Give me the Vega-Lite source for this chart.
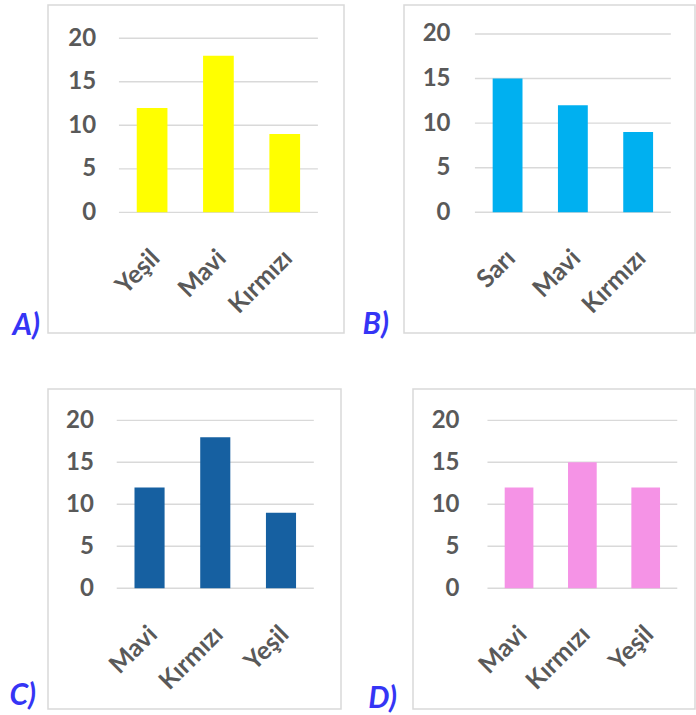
{
  "$schema": "https://vega.github.io/schema/vega-lite/v6.json",
  "padding": {"left": 8, "top": 4, "right": 0, "bottom": 4},
  "background": "white",
  "config": {
    "view": {"stroke": "#D9D9D9", "strokeWidth": 1.5},
    "axis": {"labelFont": "Lato", "labelFontSize": 24, "labelFontWeight": "bold", "labelColor": "#595959", "domain": false, "ticks": false, "tickSize": 0, "grid": false, "title": null, "labelPadding": 0},
    "title": {"font": "Lato", "fontSize": 30, "fontWeight": "bold", "fontStyle": "italic", "color": "#3535F5", "orient": "left", "anchor": "start", "angle": 0, "align": "right", "baseline": "alphabetic"}
  },
  "bounds": "flush",
  "spacing": 384,
  "vconcat": [
    {
      "bounds": "flush",
      "spacing": 60,
      "hconcat": [
        {
          "width": 296, "height": 328,
          "title": {"text": "A)", "offset": 8, "dy": -22},
          "layer": [
            {
              "data": {"values": [{"v": 0}, {"v": 5}, {"v": 10}, {"v": 15}, {"v": 20}]},
              "mark": {"type": "rule", "color": "#D9D9D9", "strokeWidth": 1.4},
              "encoding": {
                "y": {"field": "v", "type": "quantitative", "scale": {"domain": [-13.87, 23.83], "nice": false, "zero": false},
                  "axis": {"values": [0, 5, 10, 15, 20], "offset": -47.7, "labelBaseline": "middle"}},
                "x": {"datum": "Yeşil", "bandPosition": -0.58, "type": "nominal"},
                "x2": {"datum": "Kırmızı", "bandPosition": 1.58}
              }
            },
            {
              "data": {"values": [{"renk": "Yeşil", "sayi": 12}, {"renk": "Mavi", "sayi": 18}, {"renk": "Kırmızı", "sayi": 9}]},
              "mark": {"type": "bar", "color": "#FFFF00"},
              "encoding": {
                "x": {"field": "renk", "type": "nominal", "sort": null,
                  "scale": {"domain": ["Yeşil", "Mavi", "Kırmızı"], "paddingInner": 0.537, "paddingOuter": 1.107, "align": 0.669},
                  "axis": {"orient": "bottom", "labelAngle": -45, "labelAlign": "right", "labelBaseline": "top", "offset": -88, "labelOverlap": false, "labelOffset": -5, "labelFontSize": 25}},
                "y": {"field": "sayi", "type": "quantitative",
                  "scale": {"domain": [-13.87, 23.83], "nice": false, "zero": false},
                  "axis": {"values": [0, 5, 10, 15, 20], "offset": -47.7, "labelBaseline": "middle"}},
                "y2": {"datum": 0}
              }
            }
          ]
        },
        {
          "width": 291, "height": 328,
          "title": {"text": "B)", "offset": 15, "dy": -23},
          "layer": [
            {
              "data": {"values": [{"v": 0}, {"v": 5}, {"v": 10}, {"v": 15}, {"v": 20}]},
              "mark": {"type": "rule", "color": "#D9D9D9", "strokeWidth": 1.4},
              "encoding": {
                "y": {"field": "v", "type": "quantitative", "scale": {"domain": [-13.54, 23.25], "nice": false, "zero": false},
                  "axis": {"values": [0, 5, 10, 15, 20], "offset": -46, "labelBaseline": "middle"}},
                "x": {"datum": "Sarı", "bandPosition": -0.595, "type": "nominal"},
                "x2": {"datum": "Kırmızı", "bandPosition": 1.595}
              }
            },
            {
              "data": {"values": [{"renk": "Sarı", "sayi": 15}, {"renk": "Mavi", "sayi": 12}, {"renk": "Kırmızı", "sayi": 9}]},
              "mark": {"type": "bar", "color": "#00B0F0"},
              "encoding": {
                "x": {"field": "renk", "type": "nominal", "sort": null,
                  "scale": {"domain": ["Sarı", "Mavi", "Kırmızı"], "paddingInner": 0.543, "paddingOuter": 1.063, "align": 0.679},
                  "axis": {"orient": "bottom", "labelAngle": -45, "labelAlign": "right", "labelBaseline": "top", "offset": -88, "labelOverlap": false, "labelOffset": -5, "labelFontSize": 25}},
                "y": {"field": "sayi", "type": "quantitative",
                  "scale": {"domain": [-13.54, 23.25], "nice": false, "zero": false},
                  "axis": {"values": [0, 5, 10, 15, 20], "offset": -46, "labelBaseline": "middle"}},
                "y2": {"datum": 0}
              }
            }
          ]
        }
      ]
    },
    {
      "bounds": "flush",
      "spacing": 72,
      "hconcat": [
        {
          "width": 293, "height": 320,
          "title": {"text": "C)", "offset": 12, "dy": -28},
          "layer": [
            {
              "data": {"values": [{"v": 0}, {"v": 5}, {"v": 10}, {"v": 15}, {"v": 20}]},
              "mark": {"type": "rule", "color": "#D9D9D9", "strokeWidth": 1.4},
              "encoding": {
                "y": {"field": "v", "type": "quantitative", "scale": {"domain": [-14.37, 23.73], "nice": false, "zero": false},
                  "axis": {"values": [0, 5, 10, 15, 20], "offset": -45.3, "labelBaseline": "middle"}},
                "x": {"datum": "Mavi", "bandPosition": -0.59, "type": "nominal"},
                "x2": {"datum": "Yeşil", "bandPosition": 1.59}
              }
            },
            {
              "data": {"values": [{"renk": "Mavi", "sayi": 12}, {"renk": "Kırmızı", "sayi": 18}, {"renk": "Yeşil", "sayi": 9}]},
              "mark": {"type": "bar", "color": "#1660A1"},
              "encoding": {
                "x": {"field": "renk", "type": "nominal", "sort": null,
                  "scale": {"domain": ["Mavi", "Kırmızı", "Yeşil"], "paddingInner": 0.542, "paddingOuter": 1.083, "align": 0.658},
                  "axis": {"orient": "bottom", "labelAngle": -45, "labelAlign": "right", "labelBaseline": "top", "offset": -87.7, "labelOverlap": false, "labelOffset": -5, "labelFontSize": 25}},
                "y": {"field": "sayi", "type": "quantitative",
                  "scale": {"domain": [-14.37, 23.73], "nice": false, "zero": false},
                  "axis": {"values": [0, 5, 10, 15, 20], "offset": -45.3, "labelBaseline": "middle"}},
                "y2": {"datum": 0}
              }
            }
          ]
        },
        {
          "width": 282, "height": 320,
          "title": {"text": "D)", "offset": 16, "dy": -25},
          "layer": [
            {
              "data": {"values": [{"v": 0}, {"v": 5}, {"v": 10}, {"v": 15}, {"v": 20}]},
              "mark": {"type": "rule", "color": "#D9D9D9", "strokeWidth": 1.4},
              "encoding": {
                "y": {"field": "v", "type": "quantitative", "scale": {"domain": [-14.37, 23.73], "nice": false, "zero": false},
                  "axis": {"values": [0, 5, 10, 15, 20], "offset": -46, "labelBaseline": "middle"}},
                "x": {"datum": "Mavi", "bandPosition": -0.6, "type": "nominal"},
                "x2": {"datum": "Yeşil", "bandPosition": 1.6}
              }
            },
            {
              "data": {"values": [{"renk": "Mavi", "sayi": 12}, {"renk": "Kırmızı", "sayi": 15}, {"renk": "Yeşil", "sayi": 12}]},
              "mark": {"type": "bar", "color": "#F593E6"},
              "encoding": {
                "x": {"field": "renk", "type": "nominal", "sort": null,
                  "scale": {"domain": ["Mavi", "Kırmızı", "Yeşil"], "paddingInner": 0.547, "paddingOuter": 1.001, "align": 0.724},
                  "axis": {"orient": "bottom", "labelAngle": -45, "labelAlign": "right", "labelBaseline": "top", "offset": -87.7, "labelOverlap": false, "labelOffset": -5, "labelFontSize": 25}},
                "y": {"field": "sayi", "type": "quantitative",
                  "scale": {"domain": [-14.37, 23.73], "nice": false, "zero": false},
                  "axis": {"values": [0, 5, 10, 15, 20], "offset": -46, "labelBaseline": "middle"}},
                "y2": {"datum": 0}
              }
            }
          ]
        }
      ]
    }
  ]
}
